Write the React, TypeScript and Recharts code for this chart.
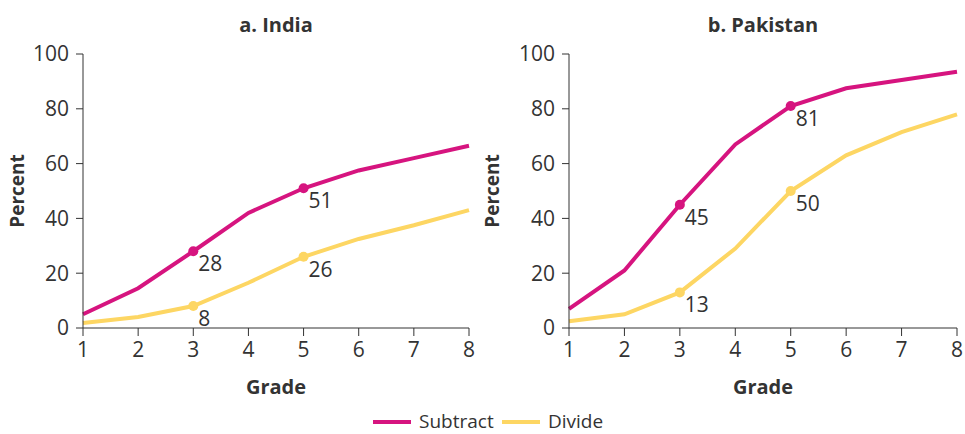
import React from "react";
import { Line, LineChart, XAxis, YAxis } from "recharts";

const grades = [1, 2, 3, 4, 5, 6, 7, 8];
const indiaSubtract = [5, 14.5, 28, 42, 51, 57.5, 62, 66.5];
const indiaDivide = [1.8, 4, 8, 16.5, 26, 32.5, 37.5, 43];
const pakistanSubtract = [7, 21, 45, 67, 81, 87.5, 90.5, 93.5];
const pakistanDivide = [2.5, 5, 13, 29, 50, 63, 71.5, 78];
const markedGrades = [3, 5];
const yTicks = [0, 20, 40, 60, 80, 100];
const seriesNames = ["Subtract", "Divide"];

const SUBTRACT = "#d6147f";
const DIVIDE = "#fdd663";
const INK = "#333333";
const FONT = "'Open Sans', 'Noto Sans', sans-serif";

const makeRows = (subtract, divide) =>
  grades.map((g, i) => ({ grade: g, subtract: subtract[i], divide: divide[i] }));

function MarkDot(props) {
  const { cx, cy, index, payload, value, stroke } = props;
  if (!markedGrades.includes(payload.grade)) return <g key={`d-${index}`} />;
  return (
    <g key={`d-${index}`}>
      <circle cx={cx} cy={cy} r={5} fill={stroke} />
      <text
        x={cx + 5}
        y={cy + 12}
        fill={INK}
        fontSize={21}
        fontFamily={FONT}
        dominantBaseline="central"
      >
        {value}
      </text>
    </g>
  );
}

function Panel({ title, subtract, divide, left, width, yWidth, right, percentX }) {
  const rows = makeRows(subtract, divide);
  const plotCenter = yWidth + (width - yWidth - right) / 2;
  return (
    <div style={{ position: "absolute", left, top: 0, width, height: 400 }}>
      <div
        style={{
          position: "absolute",
          left: plotCenter - 150,
          top: 13,
          width: 300,
          textAlign: "center",
          fontFamily: FONT,
          fontWeight: 700,
          fontSize: 20,
          lineHeight: "24px",
          color: INK,
        }}
      >
        {title}
      </div>
      <LineChart
        width={width}
        height={400}
        data={rows}
        margin={{ top: 54, right, bottom: 0, left: 0 }}
      >
        <XAxis
          dataKey="grade"
          height={72}
          stroke={INK}
          tickSize={8}
          tickMargin={6}
          tick={{ fill: INK, fontSize: 21, fontFamily: FONT }}
          label={{
            value: "Grade",
            position: "insideBottom",
            offset: 6,
            fill: INK,
            fontSize: 20,
            fontWeight: 700,
            fontFamily: FONT,
          }}
        />
        <YAxis
          width={yWidth}
          domain={[0, 100]}
          ticks={yTicks}
          stroke={INK}
          tickSize={7}
          tickMargin={7}
          tick={{ fill: INK, fontSize: 21, fontFamily: FONT }}
          label={{
            content: ({ viewBox }) => (
              <text
                x={percentX}
                y={viewBox.y + viewBox.height / 2}
                transform={`rotate(-90 ${percentX} ${viewBox.y + viewBox.height / 2})`}
                textAnchor="middle"
                dominantBaseline="central"
                fill={INK}
                fontSize={19}
                fontWeight={700}
                fontFamily={FONT}
              >
                Percent
              </text>
            ),
          }}
        />
        <Line
          dataKey="divide"
          stroke={DIVIDE}
          strokeWidth={4}
          dot={(p) => <MarkDot {...p} stroke={DIVIDE} />}
          activeDot={false}
          isAnimationActive={false}
        />
        <Line
          dataKey="subtract"
          stroke={SUBTRACT}
          strokeWidth={4}
          dot={(p) => <MarkDot {...p} stroke={SUBTRACT} />}
          activeDot={false}
          isAnimationActive={false}
        />
      </LineChart>
    </div>
  );
}

function Legend() {
  return (
    <svg
      width={965}
      height={34}
      style={{ position: "absolute", left: 0, top: 400 }}
      fontFamily={FONT}
    >
      <line x1={373} x2={411} y1={22} y2={22} stroke={SUBTRACT} strokeWidth={4} />
      <text x={419} y={21} fontSize={19} fill={INK} dominantBaseline="central">
        {seriesNames[0]}
      </text>
      <line x1={502} x2={540} y1={22} y2={22} stroke={DIVIDE} strokeWidth={4} />
      <text x={548} y={21} fontSize={19} fill={INK} dominantBaseline="central">
        {seriesNames[1]}
      </text>
    </svg>
  );
}

export default function App() {
  return (
    <div
      style={{
        position: "absolute",
        left: 0,
        top: 0,
        width: 965,
        height: 434,
        background: "#fff",
        overflow: "hidden",
      }}
    >
      <Panel
        title="a. India"
        subtract={indiaSubtract}
        divide={indiaDivide}
        left={0}
        width={480}
        yWidth={83}
        right={11}
        percentX={17}
      />
      <Panel
        title="b. Pakistan"
        subtract={pakistanSubtract}
        divide={pakistanDivide}
        left={480}
        width={485}
        yWidth={89}
        right={8}
        percentX={12}
      />
      <Legend />
    </div>
  );
}
